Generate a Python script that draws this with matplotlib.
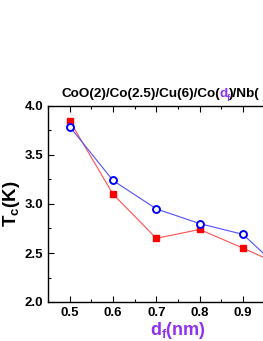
import matplotlib
matplotlib.use("Agg")
import matplotlib.pyplot as plt
from matplotlib.ticker import MultipleLocator

# data (last point lies beyond the cropped right edge)
df_nm = [0.5, 0.6, 0.7, 0.8, 0.9, 1.0]
tc_red = [3.85, 3.10, 2.65, 2.74, 2.55, 2.35]
tc_blue = [3.79, 3.24, 2.95, 2.80, 2.69, 2.28]

PURPLE = "#9030f0"
FONT = "Liberation Sans"

plt.rcParams["font.family"] = FONT
plt.rcParams["font.weight"] = "bold"
plt.rcParams["mathtext.fontset"] = "custom"
plt.rcParams["mathtext.rm"] = FONT + ":bold"
plt.rcParams["mathtext.bf"] = FONT + ":bold"
plt.rcParams["mathtext.it"] = FONT + ":bold"

W, H = 263, 341
fig = plt.figure(figsize=(W / 100, H / 100), dpi=100)
# axes run past the right edge, as in the cropped reference
ax = fig.add_axes([48 / W, 39 / H, 260 / W, 196 / H])

ax.plot(df_nm, tc_red, color="#ff5050", lw=0.8, marker="s", ms=5,
        mfc="red", mec="red", zorder=3)
ax.plot(df_nm, tc_blue, color="#5050ff", lw=0.8, marker="o", ms=5,
        mfc="white", mec="blue", mew=1.4, zorder=4)

ax.set_xlim(0.45, 1.05)
ax.set_ylim(2.0, 4.0)
ax.xaxis.set_major_locator(MultipleLocator(0.1))
ax.xaxis.set_minor_locator(MultipleLocator(0.05))
ax.yaxis.set_major_locator(MultipleLocator(0.5))
ax.yaxis.set_minor_locator(MultipleLocator(0.25))
# the 1.0 label falls outside the cropped picture
ax.xaxis.set_major_formatter(lambda v, p: f"{v:.1f}" if v < 0.95 else "")
ax.yaxis.set_major_formatter(lambda v, p: f"{v:.1f}")
ax.tick_params(which="both", direction="in", top=True, right=True,
               labelsize=9.5, width=0.8)
ax.tick_params(which="major", length=4)
ax.tick_params(which="minor", length=2)
for s in ax.spines.values():
    s.set_linewidth(1.0)

ax.set_ylabel(r"$\mathbf{T_c(K)}$", fontsize=13.5, labelpad=2)
ax.set_xlabel(r"$\mathbf{d_f(nm)}$", fontsize=13, color=PURPLE, labelpad=1)

# title with the purple d_f in the middle
tsize = 9.7
t1 = fig.text(62 / W, 1 - 100 / H, "CoO(2)/Co(2.5)/Cu(6)/Co(", fontsize=tsize,
              fontweight="bold", va="bottom", ha="left")
t2 = ax.annotate("d", xy=(1, 0), xycoords=t1, xytext=(-1, 0),
                 textcoords="offset points", va="bottom", ha="left",
                 fontsize=tsize, fontweight="bold", color=PURPLE)
t3 = ax.annotate("f", xy=(1, 0), xycoords=t2, xytext=(-0.5, -2.5),
                 textcoords="offset points", va="bottom", ha="left",
                 fontsize=6.5, fontweight="bold", color=PURPLE)
ax.annotate(")/Nb(", xy=(1, 0), xycoords=t3, xytext=(-0.5, 2.5),
            textcoords="offset points", va="bottom", ha="left",
            fontsize=tsize, fontweight="bold")

fig.savefig("out.png", dpi=100)
